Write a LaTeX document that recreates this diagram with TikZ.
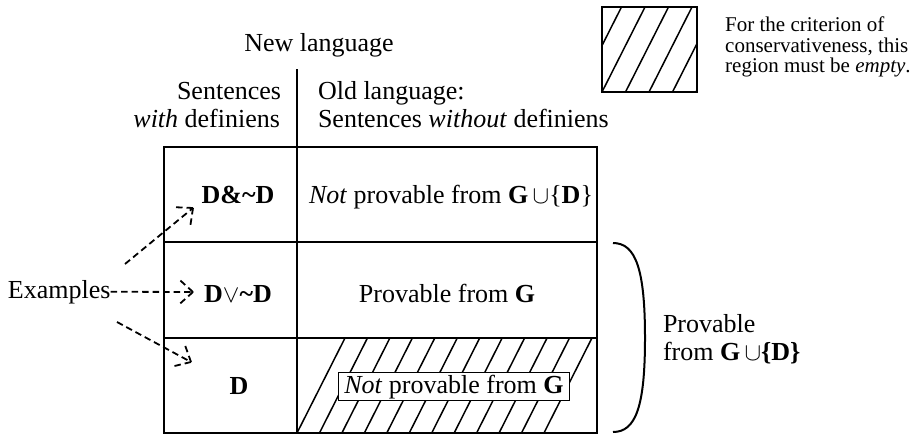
\documentclass[tikz,border=0pt]{standalone}
\usepackage{fontspec}
\setmainfont{Liberation Serif}
\usetikzlibrary{calc}
\begin{document}
\begin{tikzpicture}[x=1pt,y=-1pt,
  lab/.style={font=\fontsize{26}{27}\selectfont, inner sep=0pt, outer sep=0pt},
  note/.style={font=\fontsize{21}{20.5}\selectfont, inner sep=0pt, anchor=base west},
  frame/.style={line width=2pt},
  hatchline/.style={line width=1.5pt},
  dsh/.style={line width=1.8pt, dash pattern=on 6.5pt off 4pt},
]
\useasboundingbox (0,0) rectangle (915,436);

% header texts
\node[lab, anchor=base] (newl) at (319,52) {New language};
\node[lab, anchor=base east] (sent1) at (281,99) {Sentences};
\node[lab, anchor=base east] (sent2) at (280,127) {\textit{with} definiens};
\node[lab, anchor=base west] (old1) at (318,99) {Old language:};
\node[lab, anchor=base west] (old2) at (318,127) {Sentences \textit{without} definiens};

% hatching of the bottom right cell
\foreach \k in {0,...,11}
  \draw[hatchline] ({297+22.45*\k},433) -- ({345+22.45*\k},338);

% table
\draw[frame] (164,147) rectangle (597,433);
\draw[frame] (164,242) -- (597,242);
\draw[frame] (164,338) -- (597,338);
\draw[frame] (297,69) -- (297,433);

% cell texts
\node[lab, anchor=base] (r1) at (238,203) {\textbf{D\&\textasciitilde D}};
\node[lab, anchor=base] (c1) at (451,203) {\textit{Not} provable from \textbf{G}\,$\cup$\{\textbf{D}\}};
\node[lab, anchor=base] (r2) at (238,302) {\textbf{D}$\vee$\textbf{\textasciitilde D}};
\node[lab, anchor=base] (c2) at (447,302) {Provable from \textbf{G}};
\node[lab, anchor=base] (r3) at (239,394) {\textbf{D}};
\node[lab, anchor=base, fill=white, draw, line width=1.5pt, inner xsep=6pt, inner ysep=2pt] (c3) at (454,393) {\textit{Not} provable from \textbf{G}};

% examples
\node[lab, anchor=base west] (ex) at (8,298) {Examples};
\coordinate (s1) at (125,264);
\coordinate (t1) at (193,208);
\coordinate (t2) at (193,292);
\coordinate (s3) at (117,322);
\coordinate (t3) at (191,362);
\draw[dsh] (s1) -- (t1);
\draw[dsh] (ex.east) -- (t2);
\draw[dsh] (s3) -- (t3);
\foreach \t/\s in {t1/s1, t2/ex.east, t3/s3}{
  \draw[dsh] (\t) -- ($(\t)!21pt!42:(\s)$);
  \draw[dsh] (\t) -- ($(\t)!21pt!-42:(\s)$);
}

% brace
\draw[frame] (613,243) .. controls (636,243) and (645,270) .. (645,338)
             .. controls (645,406) and (636,432) .. (613,432);
\node[lab, anchor=base west] (pv1) at (663,332) {Provable};
\node[lab, anchor=base west] (pv2) at (663,360) {from \textbf{G}\,$\cup$\textbf{\{D\}}};

% legend
\begin{scope}
  \clip (602,7) rectangle (697,92);
  \foreach \k in {-2,...,4}
    \draw[hatchline] ({602+23.5*\k},92) -- ({645+23.5*\k},7);
\end{scope}
\draw[frame] (602,7) rectangle (697,92);
\node[note] (n1) at (725,32) {For the criterion of};
\node[note] (n2) at (725,52.5) {conservativeness, this};
\node[note] (n3) at (725,73) {region must be \textit{empty}.};
\end{tikzpicture}
\end{document}
